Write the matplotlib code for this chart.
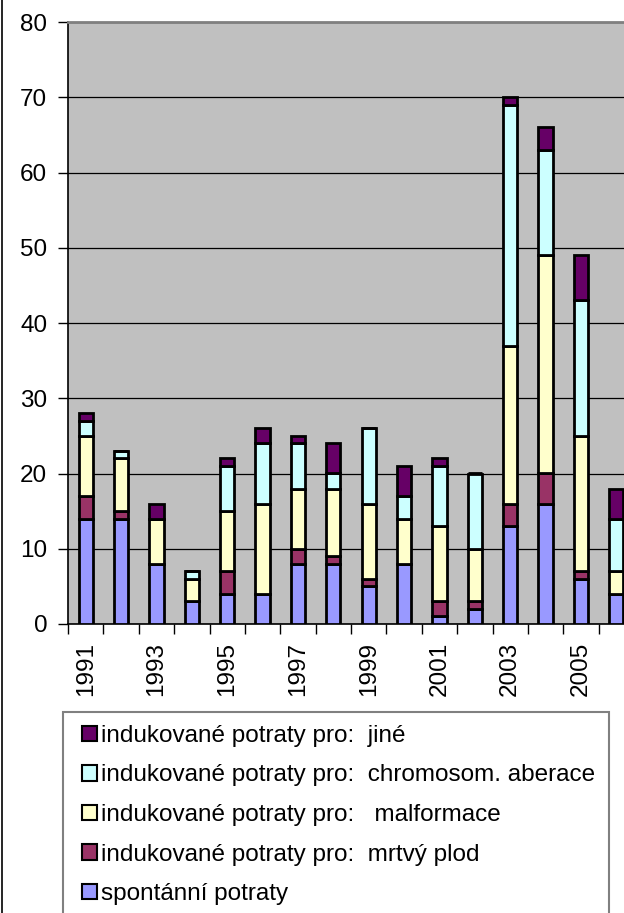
import matplotlib
matplotlib.use("Agg")
import matplotlib.pyplot as plt
from matplotlib.patches import Patch, Rectangle
from matplotlib.lines import Line2D
import numpy as np

plt.rcParams['font.family'] = ['Liberation Sans', 'DejaVu Sans']

years = list(range(1991, 2007))
spontanni = [14, 14, 8, 3, 4, 4, 8, 8, 5, 8, 1, 2, 13, 16, 6, 4]
mrtvy_plod = [3, 1, 0, 0, 3, 0, 2, 1, 1, 0, 2, 1, 3, 4, 1, 0]
malformace = [8, 7, 6, 3, 8, 12, 8, 9, 10, 6, 10, 7, 21, 29, 18, 3]
chromosom = [2, 1, 0, 1, 6, 8, 6, 2, 10, 3, 8, 10, 32, 14, 18, 7]
jine = [1, 0, 2, 0, 1, 2, 1, 4, 0, 4, 1, 0, 1, 3, 6, 4]

series = [
    ("spontánní potraty", spontanni, "#9999FF"),
    ("indukované potraty pro:  mrtvý plod", mrtvy_plod, "#993366"),
    ("indukované potraty pro:   malformace", malformace, "#FFFFCC"),
    ("indukované potraty pro:  chromosom. aberace", chromosom, "#CCFFFF"),
    ("indukované potraty pro:  jiné", jine, "#660066"),
]
yticks = [0, 10, 20, 30, 40, 50, 60, 70, 80]

FS = 17.5
W, H = 624, 913
fig = plt.figure(figsize=(W / 100, H / 100), dpi=100)
ax = fig.add_axes([68 / W, 1 - 624 / H, 566 / W, 602 / H])
ax.set_facecolor("#C0C0C0")

x = np.arange(len(years))
bottom = np.zeros(len(years))
handles = []
for label, vals, color in series:
    v = np.array(vals, dtype=float)
    ax.bar(x, v, width=0.4, bottom=bottom, color=color, edgecolor="black",
           linewidth=2.0, zorder=3)
    bottom += v
    handles.append(Patch(facecolor=color, edgecolor="black", linewidth=1.5, label=label))

ax.set_xlim(-0.5, len(years) - 0.5)
ax.set_ylim(0, 80)
ax.set_yticks(yticks)
ax.yaxis.grid(True, color="black", linewidth=0.9, zorder=1)
ax.set_axisbelow(True)
ax.tick_params(axis="y", direction="out", length=7, width=1, pad=8, labelsize=FS)

ax.set_xticks(np.arange(len(years) + 1) - 0.5)
ax.set_xticklabels([])
ax.tick_params(axis="x", which="major", direction="out", length=7, width=1)
ax.set_xticks(x[::2], minor=True)
ax.set_xticklabels([str(y) for y in years[::2]], minor=True, rotation=90, fontsize=FS)
ax.tick_params(axis="x", which="minor", length=0, pad=13)

for s in ["left", "bottom"]:
    ax.spines[s].set_color("black")
    ax.spines[s].set_linewidth(1.2)
ax.spines["top"].set_color("#808080")
ax.spines["top"].set_linewidth(2)
ax.spines["right"].set_visible(False)

# outer chart-area border (left edge)
fig.add_artist(Line2D([2.0 / W, 2.0 / W], [0, 1], color="black", linewidth=1.2,
                      transform=fig.transFigure))

# legend frame (extends past the bottom edge)
fig.add_artist(Rectangle((63 / W, 1 - 925 / H), (609 - 63) / W, (925 - 712) / H,
                         transform=fig.transFigure, facecolor="white",
                         edgecolor="#808080", linewidth=1.5, zorder=0))

leg = fig.legend(handles=handles[::-1], loc="upper left",
                 bbox_to_anchor=(82 / W, 1 - 725 / H),
                 fontsize=FS, frameon=False,
                 handlelength=0.62, handleheight=0.62,
                 handletextpad=0.15, labelspacing=0.72, borderpad=0,
                 borderaxespad=0)

fig.savefig("out.png", dpi=100)
